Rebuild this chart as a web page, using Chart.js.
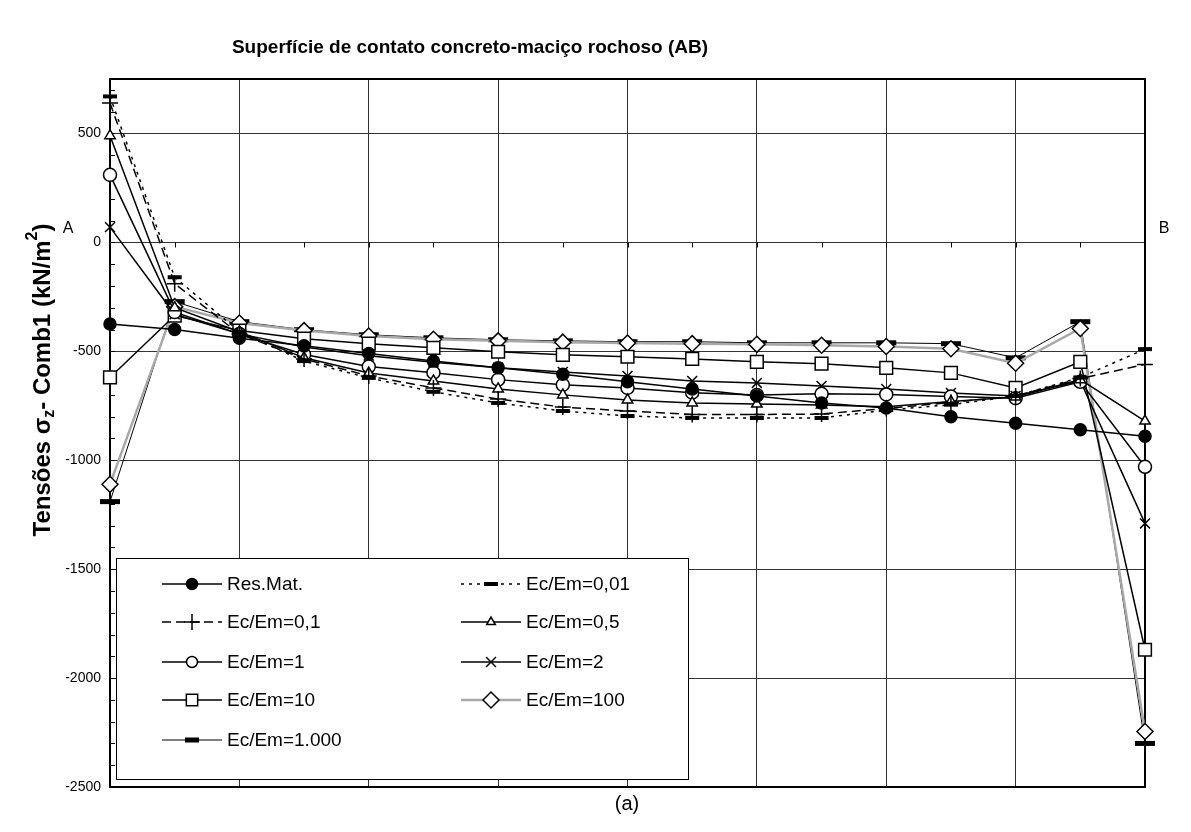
<!DOCTYPE html>
<html>
<head>
<meta charset="utf-8">
<script src="https://cdn.jsdelivr.net/npm/chart.js@4.4.1/dist/chart.umd.min.js"></script>
<style>
  html, body { margin: 0; padding: 0; background: #fff; }
  #wrap { width: 1191px; height: 832px; position: relative; }
</style>
</head>
<body>
<div id="wrap"><canvas id="myChart" width="1191" height="832"></canvas></div>
<script>
// positions along the contact surface A -> B
var positions = [0, 1, 2, 3, 4, 5, 6, 7, 8, 9, 10, 11, 12, 13, 14, 15, 16];

var resMat   = [-375, -400, -440, -475, -510, -545, -575, -605, -640, -673, -705, -737, -760, -800, -830, -860, -890];
var ec001    = [670, -160, -410, -545, -622, -686, -737, -774, -797, -806, -806, -806, -770, -745, -705, -620, -490];
var ec01     = [640, -190, -420, -535, -613, -668, -719, -756, -774, -790, -790, -788, -762, -735, -705, -625, -560];
var ec05     = [490, -300, -410, -530, -600, -636, -673, -700, -723, -737, -742, -746, -755, -730, -710, -630, -820];
var ec1      = [310, -320, -420, -515, -570, -598, -630, -654, -668, -690, -700, -695, -698, -708, -715, -640, -1030];
var ec2      = [70, -330, -420, -480, -520, -550, -575, -595, -613, -636, -645, -659, -673, -691, -705, -636, -1290];
var ec10     = [-620, -336, -405, -442, -465, -484, -502, -516, -525, -535, -548, -557, -576, -599, -668, -548, -1870];
var ec100    = [-1110, -295, -370, -405, -430, -445, -452, -458, -462, -465, -468, -472, -478, -488, -555, -395, -2245];
var ec1000   = [-1190, -272, -364, -401, -424, -438, -447, -452, -456, -456, -461, -461, -461, -465, -530, -364, -2300];

var yTicks = [500, 0, -500, -1000, -1500, -2000, -2500];

function pts(vals) {
    return positions.map(function (x, i) { return { x: x, y: vals[i] }; });
}

var legendCols = 2;

var legendPlugin = {
    id: 'boxLegend',
    afterDraw: function (chart) {
        var ctx = chart.ctx;
        var bx = 116, by = 558, bw = 572, bh = 221;
        ctx.save();
        ctx.fillStyle = '#fff';
        ctx.fillRect(bx, by, bw, bh);
        ctx.strokeStyle = '#000';
        ctx.lineWidth = 1;
        ctx.strokeRect(bx + 0.5, by + 0.5, bw, bh);
        var rows = [584, 622, 662, 700, 740];
        var colX = [162, 461];
        chart.data.datasets.forEach(function (ds, i) {
            var col = i % legendCols, row = Math.floor(i / legendCols);
            var x0 = colX[col], y = rows[row];
            ctx.save();
            ctx.strokeStyle = ds.borderColor;
            ctx.lineWidth = ds.borderWidth;
            ctx.setLineDash(ds.borderDash || []);
            ctx.beginPath();
            ctx.moveTo(x0, y);
            ctx.lineTo(x0 + 60, y);
            ctx.stroke();
            ctx.restore();
            ctx.save();
            ctx.fillStyle = ds.pointBackgroundColor;
            ctx.strokeStyle = '#000';
            ctx.lineWidth = ds.pointBorderWidth;
            Chart.helpers.drawPoint(ctx, {
                pointStyle: ds.pointStyle,
                radius: ds.legendRadius,
                rotation: 0,
                borderWidth: ds.pointBorderWidth
            }, x0 + 30, y);
            ctx.restore();
            ctx.fillStyle = '#000';
            ctx.font = '19px "Liberation Sans", Arial, sans-serif';
            ctx.textBaseline = 'middle';
            ctx.textAlign = 'left';
            ctx.fillText(ds.label, x0 + 65, y + 1);
        });
        ctx.restore();
    }
};

var framePlugin = {
    id: 'frame',
    beforeDatasetsDraw: function (chart) {
        var ctx = chart.ctx, a = chart.chartArea;
        var ys = chart.scales.y, xs = chart.scales.x;
        ctx.save();
        ctx.strokeStyle = '#000';
        ctx.lineWidth = 1;
        // minor ticks every 100 on the value axis
        for (var v = -2500; v <= 700; v += 100) {
            var py = Math.round(ys.getPixelForValue(v)) + 0.5;
            ctx.beginPath();
            ctx.moveTo(a.left, py);
            ctx.lineTo(a.left + 5, py);
            ctx.stroke();
        }
        // ticks on the zero line
        var y0 = Math.round(ys.getPixelForValue(0)) + 0.5;
        positions.forEach(function (p) {
            var px = Math.round(xs.getPixelForValue(p)) + 0.5;
            ctx.beginPath();
            ctx.moveTo(px, y0);
            ctx.lineTo(px, y0 + 5);
            ctx.stroke();
        });
        ctx.strokeStyle = '#000';
        ctx.lineWidth = 2;
        ctx.strokeRect(a.left, a.top, a.right - a.left, a.bottom - a.top);
        ctx.restore();
    },
    afterDraw: function (chart) {
        var ctx = chart.ctx;
        ctx.save();
        ctx.fillStyle = '#000';
        ctx.textBaseline = 'middle';
        ctx.textAlign = 'center';
        ctx.font = 'bold 19px "Liberation Sans", Arial, sans-serif';
        ctx.fillText('Superfície de contato concreto-maciço rochoso (AB)', 470, 48);
        ctx.font = '16px "Liberation Sans", Arial, sans-serif';
        ctx.fillText('A', 68, 229);
        ctx.fillText('B', 1164, 229);
        ctx.font = '20px "Liberation Sans", Arial, sans-serif';
        ctx.fillText('(a)', 627, 804);

        // value axis title with subscript / superscript
        ctx.translate(43, 380);
        ctx.rotate(-Math.PI / 2);
        var big = 'bold 24px "Liberation Sans", Arial, sans-serif';
        var small = 'bold 16px "Liberation Sans", Arial, sans-serif';
        var parts = [
            { t: 'Tensões σ', f: big, dy: 0 },
            { t: 'z', f: small, dy: 7 },
            { t: '- Comb1 (kN/m', f: big, dy: 0 },
            { t: '2', f: small, dy: -10 },
            { t: ')', f: big, dy: 0 }
        ];
        var total = 0;
        parts.forEach(function (p) { ctx.font = p.f; p.w = ctx.measureText(p.t).width; total += p.w; });
        var x = -total / 2;
        ctx.textAlign = 'left';
        parts.forEach(function (p) {
            ctx.font = p.f;
            ctx.fillText(p.t, x, p.dy);
            x += p.w;
        });
        ctx.restore();
    }
};

function series(label, vals, opt) {
    return Object.assign({
        label: label,
        data: pts(vals),
        borderColor: '#000',
        borderWidth: 1.5,
        borderDash: [],
        pointBorderColor: '#000',
        pointBackgroundColor: '#fff',
        pointBorderWidth: 1.5,
        pointRadius: 6,
        legendRadius: 5,
        tension: 0,
        clip: false
    }, opt);
}

var ctx = document.getElementById('myChart').getContext('2d');
var chart = new Chart(ctx, {
    type: 'line',
    data: {
        datasets: [
            series('Res.Mat.', resMat, { pointStyle: 'circle', pointBackgroundColor: '#000', pointRadius: 6, legendRadius: 5.5 }),
            series('Ec/Em=0,01', ec001, { borderDash: [3, 5], pointStyle: 'line', pointRadius: 7, pointBorderWidth: 4, legendRadius: 7 }),
            series('Ec/Em=0,1', ec01, { borderDash: [9, 5], pointStyle: 'cross', pointRadius: 8, legendRadius: 8 }),
            series('Ec/Em=0,5', ec05, { pointStyle: 'triangle', pointRadius: 6, legendRadius: 5 }),
            series('Ec/Em=1', ec1, { pointStyle: 'circle', pointRadius: 6.5, legendRadius: 5.5 }),
            series('Ec/Em=2', ec2, { pointStyle: 'crossRot', pointRadius: 7, legendRadius: 7 }),
            series('Ec/Em=10', ec10, { pointStyle: 'rect', pointRadius: 9, legendRadius: 8 }),
            series('Ec/Em=100', ec100, { borderColor: '#a8a8a8', borderWidth: 2.5, pointStyle: 'rectRot', pointRadius: 8, legendRadius: 8 }),
            series('Ec/Em=1.000', ec1000, { borderWidth: 1, pointStyle: 'line', pointRadius: 10, pointBorderWidth: 5, legendRadius: 7 })
        ]
    },
    options: {
        responsive: false,
        animation: false,
        layout: { padding: { left: 0, right: 46, top: 79, bottom: 45 } },
        plugins: {
            legend: { display: false },
            title: { display: false },
            tooltip: { enabled: false }
        },
        scales: {
            x: {
                type: 'linear',
                min: 0,
                max: 16,
                ticks: { display: false, stepSize: 2 },
                grid: { color: '#333', lineWidth: 1, drawTicks: false },
                border: { display: false },
                afterFit: function (s) { s.height = 0; }
            },
            y: {
                min: -2500,
                max: 750,
                ticks: {
                    stepSize: 500,
                    color: '#000',
                    padding: 9,
                    font: { size: 14, family: '"Liberation Sans", Arial, sans-serif' },
                    callback: function (v) { return String(v); }
                },
                afterBuildTicks: function (s) {
                    s.ticks = yTicks.map(function (v) { return { value: v }; });
                },
                grid: { color: '#333', lineWidth: 1, drawTicks: false },
                border: { display: false },
                afterFit: function (s) { s.width = 110; }
            }
        }
    },
    plugins: [framePlugin, legendPlugin]
});
</script>
</body>
</html>
